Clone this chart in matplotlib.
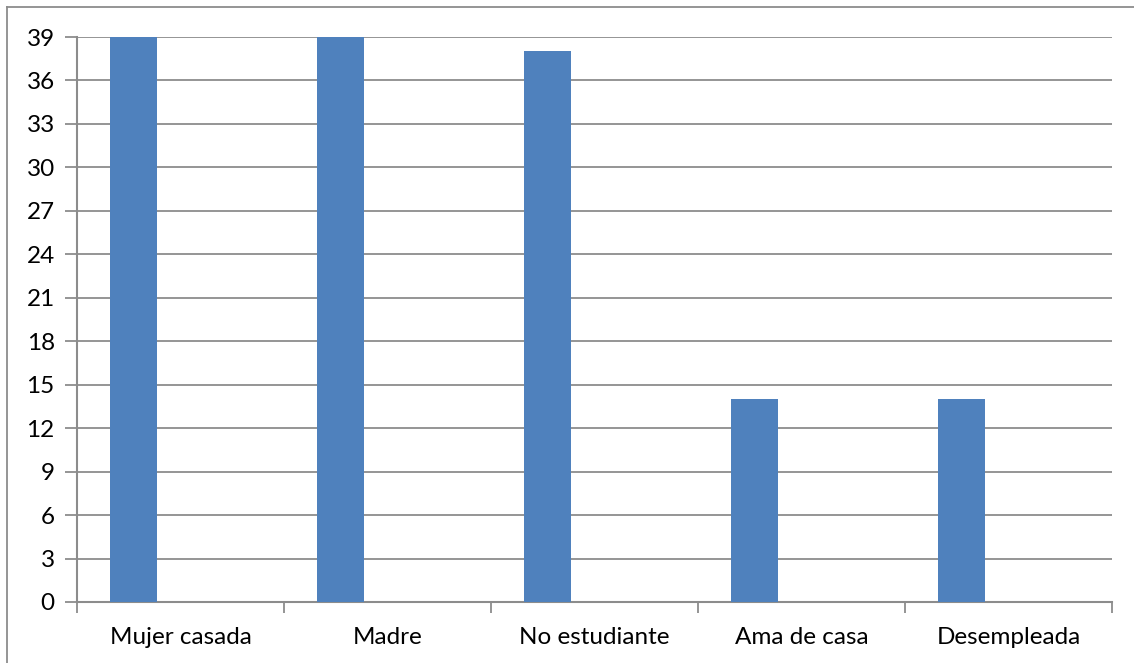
import numpy as np
import matplotlib
matplotlib.use("Agg")
import matplotlib.pyplot as plt
from matplotlib.lines import Line2D

categories = ["Mujer casada", "Madre", "No estudiante", "Ama de casa", "Desempleada"]
values = [39, 39, 38, 14, 14]
y_ticks = list(range(0, 40, 3))

BAR_COLOR = "#4F81BD"
GRID_COLOR = "#8C8C8C"

plt.rcParams["font.family"] = ["Lato", "DejaVu Sans"]

W, H = 1134, 663
fig = plt.figure(figsize=(W / 100, H / 100), dpi=100)
ax = fig.add_axes([77 / W, 1 - 602 / H, (1112 - 77) / W, (602 - 37) / H])

x = np.arange(len(categories))
ax.bar(x - 0.227, values, width=0.227, color=BAR_COLOR, zorder=3)

ax.set_xlim(-0.5, len(categories) - 0.5)
ax.set_ylim(0, 39)
ax.set_yticks(y_ticks)
ax.set_yticklabels([str(v) for v in y_ticks], fontsize=17.5)
ax.yaxis.grid(True, color=GRID_COLOR, linewidth=1.3, zorder=0)
ax.set_axisbelow(True)

# category labels centred, tick marks at category boundaries
ax.set_xticks(x)
ax.set_xticklabels(categories, fontsize=17.5)
ax.tick_params(axis="x", length=0, pad=18)
ax.set_xticks(np.arange(-0.5, len(categories)), minor=True)
ax.tick_params(axis="x", which="minor", length=8, width=1.3, color=GRID_COLOR, direction="out")
ax.tick_params(axis="y", length=9, width=1.3, color=GRID_COLOR, pad=7)

for s in ["top", "right"]:
    ax.spines[s].set_visible(False)
for s in ["left", "bottom"]:
    ax.spines[s].set_color(GRID_COLOR)
    ax.spines[s].set_linewidth(1.5)

# outer chart border (top and left edges)
fig.add_artist(Line2D([7 / W, 7 / W], [0, 1 - 7 / H], color=GRID_COLOR, linewidth=1.3))
fig.add_artist(Line2D([7 / W, 1], [1 - 7 / H, 1 - 7 / H], color=GRID_COLOR, linewidth=1.3))

fig.savefig("out.png", dpi=100)
